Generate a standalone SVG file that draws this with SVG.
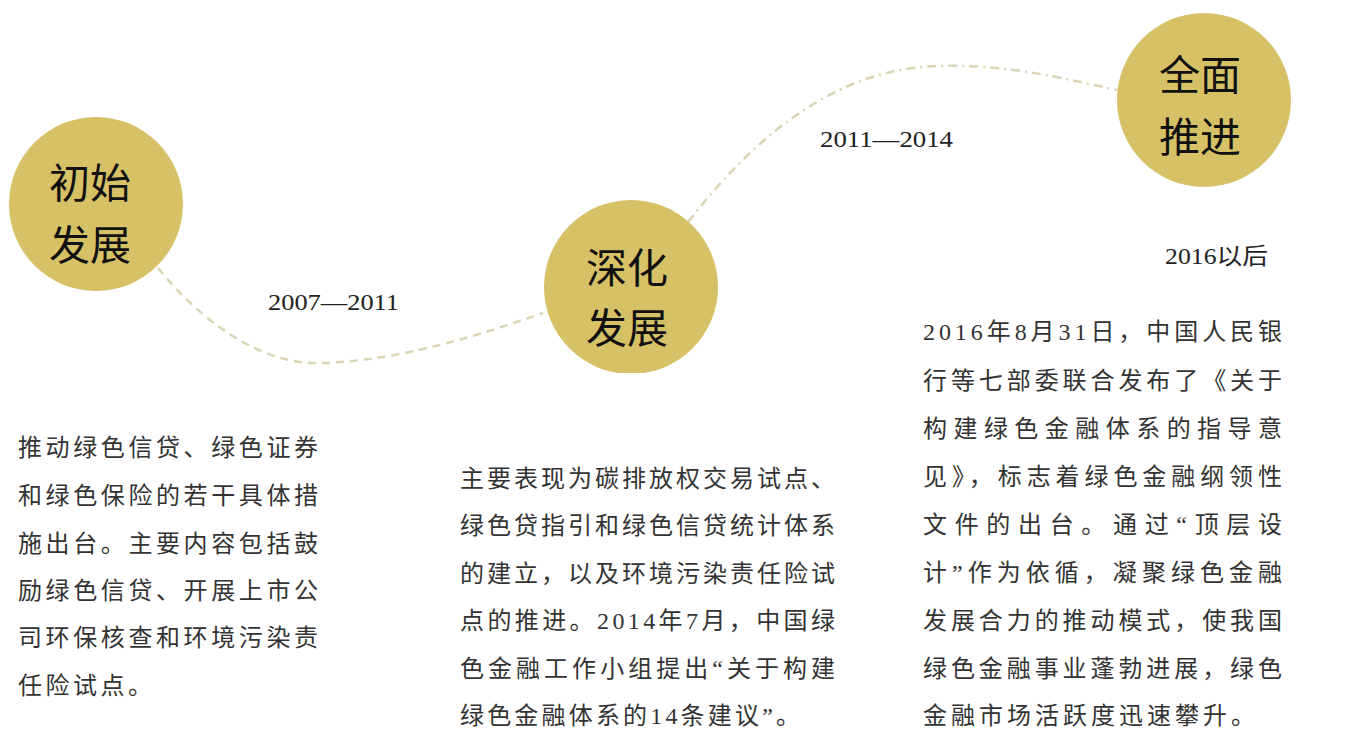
<svg xmlns="http://www.w3.org/2000/svg" width="1345" height="729" viewBox="0 0 1345 729">
<defs>
<style>
.node{fill:#D7C167;}
.title{font-family:"Liberation Serif","Noto Sans CJK SC",serif;font-size:41px;fill:#111;text-anchor:middle;}
.label{font-family:"Liberation Serif","Noto Sans CJK SC",serif;font-size:23px;fill:#222;}
.body{font-family:"Liberation Serif","Noto Sans CJK SC",serif;font-size:24px;fill:#333;}
.conn{fill:none;stroke:#D9D4B5;stroke-width:2.5;}
</style>
<clipPath id="cut2"><rect x="500" y="150" width="260" height="223"/></clipPath>
</defs>
<rect width="1345" height="729" fill="#fff"/>
<g id="connectors">
<path class="conn" stroke-dasharray="8,6" d="M158,268 C200,320 260,365 320,363 C400,361 480,335 543,313"/>
<path class="conn" stroke-dasharray="9,5,2,5" d="M688,222 C760,130 840,68 940,66 C1010,64 1070,80 1117,90"/>
</g>
<g id="node1">
<circle class="node" cx="96" cy="204" r="87"/>
<text class="title" x="90" y="198">初始</text>
<text class="title" x="90" y="260">发展</text>
</g>
<g id="node2">
<circle class="node" cx="631" cy="287" r="87" clip-path="url(#cut2)"/>
<text class="title" x="627" y="283">深化</text>
<text class="title" x="627" y="343">发展</text>
</g>
<g id="node3">
<circle class="node" cx="1204" cy="100" r="87"/>
<text class="title" x="1200" y="90">全面</text>
<text class="title" x="1200" y="152">推进</text>
</g>
<g id="labels">
<text class="label" x="268" y="310" textLength="131" lengthAdjust="spacingAndGlyphs">2007—2011</text>
<text class="label" x="820" y="147" textLength="133" lengthAdjust="spacingAndGlyphs">2011—2014</text>
<text class="label" x="1165" y="264" textLength="103" lengthAdjust="spacingAndGlyphs">2016以后</text>
</g>
<g id="text1" class="body">
<text x="18" y="456" textLength="300" lengthAdjust="spacing">推动绿色信贷、绿色证券</text>
<text x="18" y="504" textLength="300" lengthAdjust="spacing">和绿色保险的若干具体措</text>
<text x="18" y="552" textLength="300" lengthAdjust="spacing">施出台。主要内容包括鼓</text>
<text x="18" y="599" textLength="300" lengthAdjust="spacing">励绿色信贷、开展上市公</text>
<text x="18" y="646" textLength="300" lengthAdjust="spacing">司环保核查和环境污染责</text>
<text x="18" y="694" textLength="134" lengthAdjust="spacing">任险试点。</text>
</g>
<g id="text2" class="body">
<text x="460" y="487" textLength="375" lengthAdjust="spacing">主要表现为碳排放权交易试点、</text>
<text x="460" y="534" textLength="375" lengthAdjust="spacing">绿色贷指引和绿色信贷统计体系</text>
<text x="460" y="582" textLength="375" lengthAdjust="spacing">的建立，以及环境污染责任险试</text>
<text x="460" y="629" textLength="375" lengthAdjust="spacing">点的推进。2014年7月，中国绿</text>
<text x="460" y="677" textLength="375" lengthAdjust="spacing">色金融工作小组提出“关于构建</text>
<text x="460" y="724" textLength="340" lengthAdjust="spacing">绿色金融体系的14条建议”。</text>
</g>
<g id="text3" class="body">
<text x="923" y="340" textLength="359" lengthAdjust="spacing">2016年8月31日，中国人民银</text>
<text x="923" y="389" textLength="359" lengthAdjust="spacing">行等七部委联合发布了《关于</text>
<text x="923" y="437" textLength="359" lengthAdjust="spacing">构建绿色金融体系的指导意</text>
<text x="923" y="485" textLength="359" lengthAdjust="spacing">见》，标志着绿色金融纲领性</text>
<text x="923" y="533" textLength="359" lengthAdjust="spacing">文件的出台。通过“顶层设</text>
<text x="923" y="581" textLength="359" lengthAdjust="spacing">计”作为依循，凝聚绿色金融</text>
<text x="923" y="629" textLength="359" lengthAdjust="spacing">发展合力的推动模式，使我国</text>
<text x="923" y="677" textLength="359" lengthAdjust="spacing">绿色金融事业蓬勃进展，绿色</text>
<text x="923" y="724" textLength="332" lengthAdjust="spacing">金融市场活跃度迅速攀升。</text>
</g>
</svg>
